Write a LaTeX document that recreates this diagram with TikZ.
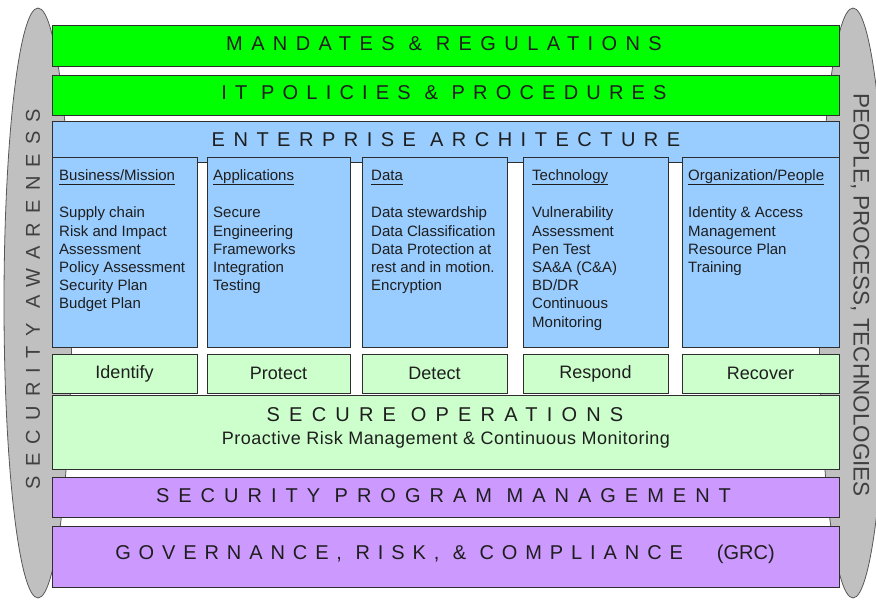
\documentclass[tikz,border=0pt]{standalone}
\usepackage{fontspec}
\setmainfont{Liberation Sans}
\definecolor{bandgreen}{HTML}{00FF00}
\definecolor{eablue}{HTML}{99CCFF}
\definecolor{opsgreen}{HTML}{CCFFCC}
\definecolor{grcpurple}{HTML}{CC99FF}
\definecolor{pillargray}{HTML}{C0C0C0}
\definecolor{edgecol}{HTML}{2E2E2E}
\definecolor{txtcol}{HTML}{1E1E1E}
\begin{document}
\begin{tikzpicture}[x=1pt,y=-1pt,
  pillar/.style={fill=pillargray,draw=edgecol!80,line width=0.8pt},
  bandbox/.style={draw=edgecol,line width=0.9pt},
  bigtitle/.style={inner sep=0pt,text=txtcol,font=\fontsize{20}{24}\selectfont},
  sidetitle/.style={inner sep=0pt,text=txtcol!85,font=\fontsize{20}{24}\selectfont},
  headtxt/.style={inner sep=0pt,anchor=base west,text=txtcol,font=\fontsize{15}{18}\selectfont},
  bodytxt/.style={inner sep=0pt,anchor=base west,text=txtcol,font=\fontsize{15}{18}\selectfont},
  steplabel/.style={inner sep=0pt,text=txtcol,font=\fontsize{18}{22}\selectfont}
]
\useasboundingbox (0,0) rectangle (876,601);
\clip (0,0) rectangle (876,601);
% pillars
\path[pillar] (38,303) ellipse [x radius=34, y radius=295];
\path[pillar] (853,303) ellipse [x radius=34, y radius=295];
% bands
\path[bandbox,fill=bandgreen] (52,25) rectangle (839,66);
\path[bandbox,fill=bandgreen] (52,75) rectangle (839,115);
\path[bandbox,fill=eablue] (52,121) rectangle (839,162);
\foreach \xa/\xb in {52/197,207/350,362/507,523/668,682/839}{
  \path[bandbox,fill=eablue] (\xa,157) rectangle (\xb,347);
  \path[bandbox,fill=opsgreen] (\xa,354) rectangle (\xb,393);
}
\path[bandbox,fill=opsgreen] (52,395) rectangle (839,469);
\path[bandbox,fill=grcpurple] (52,477) rectangle (839,517);
\path[bandbox,fill=grcpurple] (52,526) rectangle (839,587);
% titles
\node[bigtitle] (mand) at (444,44) {\addfontfeature{LetterSpace=42}MANDATES \& REGULATIONS};
\node[bigtitle] (itpol) at (444,93) {\addfontfeature{LetterSpace=41}IT POLICIES \& PROCEDURES};
\node[bigtitle] (ea) at (446,140) {\addfontfeature{LetterSpace=42.5}ENTERPRISE ARCHITECTURE};
\node[bigtitle] (secops) at (445,415) {\addfontfeature{LetterSpace=46}SECURE OPERATIONS};
\node[inner sep=0pt,text=txtcol,font=\fontsize{18}{22}\selectfont] (proact) at (446,440) {\addfontfeature{LetterSpace=2.7}Proactive Risk Management \& Continuous Monitoring};
\node[bigtitle] (spm) at (443.5,496) {\addfontfeature{LetterSpace=45}SECURITY PROGRAM MANAGEMENT};
\node[bigtitle] (grc) at (445,554) {{\addfontfeature{LetterSpace=39.5}GOVERNANCE, RISK, \& COMPLIANCE}\hspace{34pt}(GRC)};
% side titles
\node[sidetitle,rotate=90] (secaw) at (33,299) {\addfontfeature{LetterSpace=46}SECURITY AWARENESS};
\node[sidetitle,rotate=-90,font=\fontsize{22.5}{26}\selectfont] (ppt) at (860,295) {PEOPLE, PROCESS, TECHNOLOGIES};
% column headings and bodies
\foreach \xx/\hd [count=\c] in {59/Business\slash Mission,213/Applications,371/Data,532/Technology,688/Organization\slash People}{
  \node[headtxt] (head\c) at (\xx,181) {\hd};
  \draw[txtcol,line width=0.9pt] ([yshift=-3pt]head\c.base west) -- ([yshift=-3pt]head\c.base east);
}
\foreach \t [count=\i] in {Supply chain,Risk and Impact,Assessment,Policy Assessment,Security Plan,Budget Plan}
  \node[bodytxt] (ca\i) at (59,{218+18.2*(\i-1)}) {\t};
\foreach \t [count=\i] in {Secure,Engineering,Frameworks,Integration,Testing}
  \node[bodytxt] (cb\i) at (213,{218+18.2*(\i-1)}) {\t};
\foreach \t [count=\i] in {Data stewardship,Data Classification,Data Protection at,rest and in motion.,Encryption}
  \node[bodytxt] (cc\i) at (371,{218+18.2*(\i-1)}) {\t};
\foreach \t [count=\i] in {Vulnerability,Assessment,Pen Test,SA\&A (C\&A),BD/DR,Continuous,Monitoring}
  \node[bodytxt] (cd\i) at (532,{218+18.2*(\i-1)}) {\t};
\foreach \t [count=\i] in {Identity \& Access,Management,Resource Plan,Training}
  \node[bodytxt] (ce\i) at (688,{218+18.2*(\i-1)}) {\t};
% step labels
\foreach \xc/\lb [count=\i] in {124.5/Identify,278.5/Protect,434.5/Detect,595.5/Respond,760.5/Recover}
  \node[steplabel] (stp\i) at (\xc,373.5) {\lb};
\end{tikzpicture}
\end{document}
